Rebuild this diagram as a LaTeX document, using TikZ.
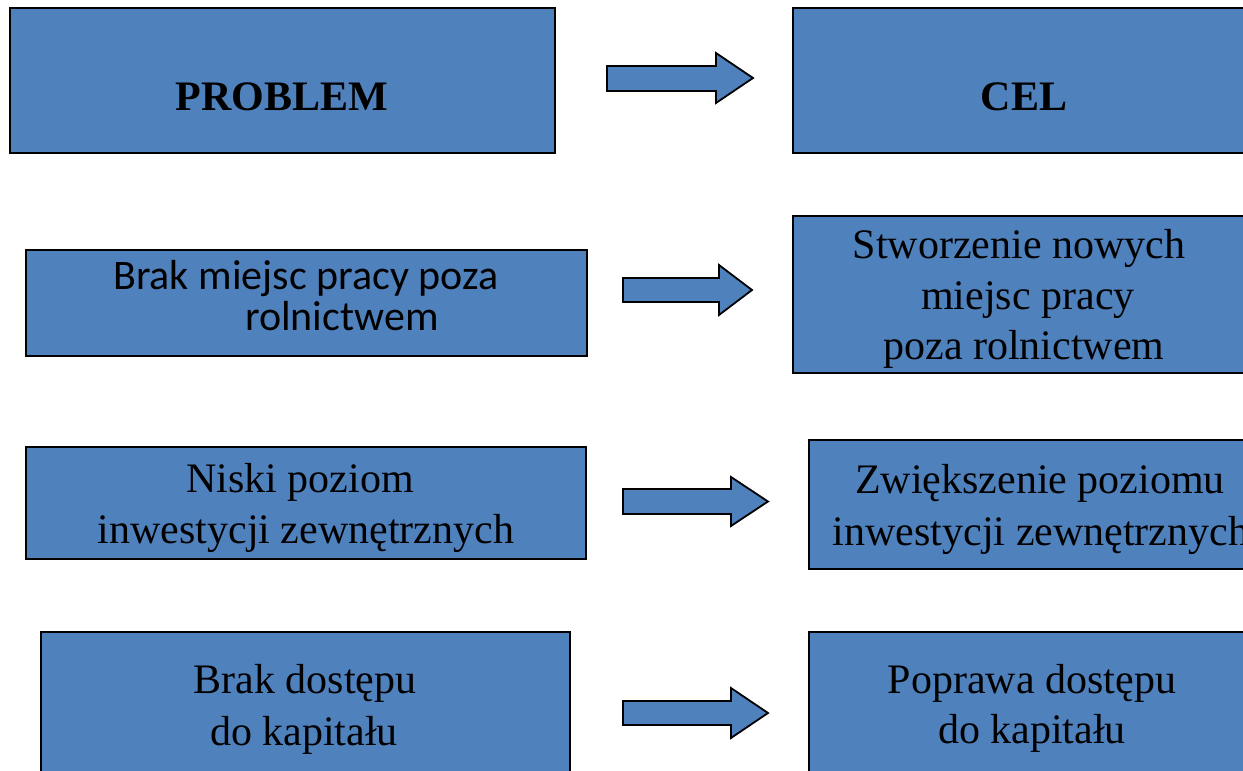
\documentclass[tikz,border=0pt]{standalone}
\usepackage{fontspec}
\setmainfont{Liberation Serif}
\newfontfamily\calibrifont{Carlito}
\definecolor{boxblue}{HTML}{4F81BD}
\begin{document}
\begin{tikzpicture}[x=1pt,y=-1pt,
  box/.style={draw=black, line width=1.8pt, fill=boxblue, rectangle, inner sep=0pt, anchor=north west},
  lbl/.style={anchor=base, inner sep=0pt, font=\fontsize{42}{50}\selectfont},
  slbl/.style={anchor=base west, inner sep=0pt, font=\calibrifont\fontsize{42}{50}\selectfont},
  hdr/.style={anchor=base, inner sep=0pt, font=\bfseries\fontsize{42}{50}\selectfont},
  blockarrow/.style={draw=black, line width=1.8pt, fill=boxblue, line join=miter}]
\useasboundingbox (0,0) rectangle (1243,771);
\clip (0,0) rectangle (1243,771);
% left column boxes
\node[box, minimum width=545pt, minimum height=145pt] (p1) at (9,7) {};
\node[box, minimum width=561pt, minimum height=106pt] (p2) at (25,249) {};
\node[box, minimum width=560pt, minimum height=112pt] (p3) at (25,446) {};
\node[box, minimum width=529pt, minimum height=160pt] (p4) at (40,631) {};
% right column boxes
\node[box, minimum width=480pt, minimum height=145pt] (c1) at (792,7) {};
\node[box, minimum width=480pt, minimum height=157pt] (c2) at (792,215) {};
\node[box, minimum width=470pt, minimum height=129pt] (c3) at (808,439) {};
\node[box, minimum width=470pt, minimum height=170pt] (c4) at (808,631) {};
% labels
\node[hdr] (tp1) at (282,110) {PROBLEM};
\node[hdr] (tc1) at (1024,110) {CEL};
\node[slbl] (tp2a) at (113,289) {Brak miejsc pracy poza};
\node[slbl] (tp2b) at (245,330) {rolnictwem};
\node[lbl] (tc2a) at (1019,258) {Stworzenie nowych};
\node[lbl] (tc2b) at (1028,309) {miejsc pracy};
\node[lbl] (tc2c) at (1024,359) {poza rolnictwem};
\node[lbl] (tp3a) at (300,492) {Niski poziom};
\node[lbl] (tp3b) at (306,543) {inwestycji zewnętrznych};
\node[lbl] (tc3a) at (1040,493) {Zwiększenie poziomu};
\node[lbl] (tc3b) at (1041,545) {inwestycji zewnętrznych};
\node[lbl] (tp4a) at (305,693) {Brak dostępu};
\node[lbl] (tp4b) at (304,745) {do kapitału};
\node[lbl] (tc4a) at (1032,693) {Poprawa dostępu};
\node[lbl] (tc4b) at (1032,743) {do kapitału};
% block arrows
\draw[blockarrow] (607,66) -- (716,66) -- (716,53) -- (753,78) -- (716,103) -- (716,91) -- (607,91) -- cycle;
\draw[blockarrow] (623,278) -- (719,278) -- (719,265) -- (752,290) -- (719,315) -- (719,302) -- (623,302) -- cycle;
\draw[blockarrow] (623,489) -- (731,489) -- (731,477) -- (768,501.5) -- (731,526) -- (731,514) -- (623,514) -- cycle;
\draw[blockarrow] (623,701) -- (731,701) -- (731,688) -- (768,713) -- (731,738) -- (731,725) -- (623,725) -- cycle;
\end{tikzpicture}
\end{document}
